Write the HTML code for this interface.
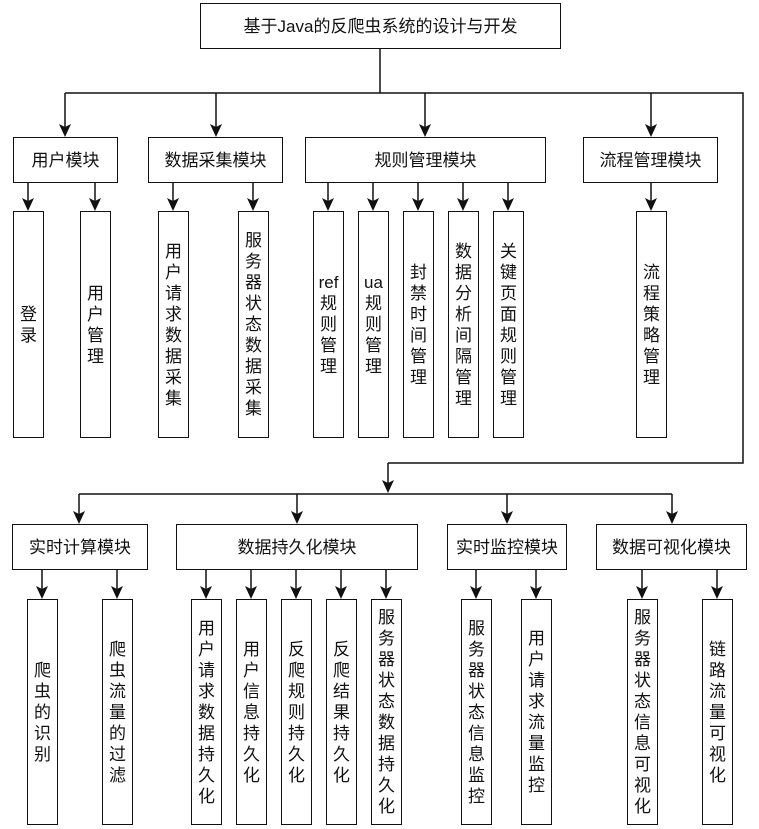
<!DOCTYPE html>
<html><head><meta charset="utf-8"><style>
body{margin:0;background:#fff;width:759px;height:829px;position:relative;overflow:hidden;font-family:"Liberation Sans","Noto Sans CJK SC",sans-serif;}
.b{position:absolute;box-sizing:border-box;border:1.5px solid #111;background:#fff;display:flex;align-items:center;justify-content:center;text-align:center;font-size:17px;color:#111;line-height:21px;}
svg{position:absolute;left:0;top:0;}
</style></head><body>
<svg width="759" height="829" viewBox="0 0 759 829">
<g stroke="#111" stroke-width="1.5" fill="none">
<path d="M380,48 V93 M65,93 H743 V463 H388 M79,494 H672"/>
</g>
<g stroke="#111" stroke-width="1.5">
<line x1="65" y1="93" x2="65" y2="128"/><line x1="216" y1="93" x2="216" y2="128"/><line x1="425" y1="93" x2="425" y2="128"/><line x1="651" y1="93" x2="651" y2="128"/>
<line x1="388" y1="463" x2="388" y2="484"/>
<line x1="79" y1="494" x2="79" y2="515"/><line x1="297" y1="494" x2="297" y2="515"/><line x1="507" y1="494" x2="507" y2="515"/><line x1="672" y1="494" x2="672" y2="515"/>
<line x1="28" y1="182" x2="28" y2="202"/><line x1="95" y1="182" x2="95" y2="202"/><line x1="173" y1="182" x2="173" y2="202"/><line x1="253" y1="182" x2="253" y2="202"/>
<line x1="328" y1="182" x2="328" y2="202"/><line x1="373" y1="182" x2="373" y2="202"/><line x1="418" y1="182" x2="418" y2="202"/><line x1="463" y1="182" x2="463" y2="202"/><line x1="508" y1="182" x2="508" y2="202"/><line x1="651" y1="182" x2="651" y2="202"/>
<line x1="42" y1="569" x2="42" y2="590"/><line x1="117" y1="569" x2="117" y2="590"/>
<line x1="206" y1="569" x2="206" y2="590"/><line x1="251" y1="569" x2="251" y2="590"/><line x1="296" y1="569" x2="296" y2="590"/><line x1="341" y1="569" x2="341" y2="590"/><line x1="386" y1="569" x2="386" y2="590"/>
<line x1="476" y1="569" x2="476" y2="590"/><line x1="536" y1="569" x2="536" y2="590"/><line x1="642" y1="569" x2="642" y2="590"/><line x1="717" y1="569" x2="717" y2="590"/>
</g>
<g fill="#111">
<path d="M59,124 L65,127 L71,124 L65,137 Z"/><path d="M210,124 L216,127 L222,124 L216,137 Z"/><path d="M419,124 L425,127 L431,124 L425,137 Z"/><path d="M645,124 L651,127 L657,124 L651,137 Z"/>
<path d="M382,480 L388,483 L394,480 L388,493 Z"/>
<path d="M73,511 L79,514 L85,511 L79,524 Z"/><path d="M291,511 L297,514 L303,511 L297,524 Z"/><path d="M501,511 L507,514 L513,511 L507,524 Z"/><path d="M666,511 L672,514 L678,511 L672,524 Z"/>
<path d="M22,198 L28,201 L34,198 L28,211 Z"/><path d="M89,198 L95,201 L101,198 L95,211 Z"/><path d="M167,198 L173,201 L179,198 L173,211 Z"/><path d="M247,198 L253,201 L259,198 L253,211 Z"/>
<path d="M322,198 L328,201 L334,198 L328,211 Z"/><path d="M367,198 L373,201 L379,198 L373,211 Z"/><path d="M412,198 L418,201 L424,198 L418,211 Z"/><path d="M457,198 L463,201 L469,198 L463,211 Z"/><path d="M502,198 L508,201 L514,198 L508,211 Z"/><path d="M645,198 L651,201 L657,198 L651,211 Z"/>
<path d="M36,586 L42,589 L48,586 L42,599 Z"/><path d="M111,586 L117,589 L123,586 L117,599 Z"/>
<path d="M200,586 L206,589 L212,586 L206,599 Z"/><path d="M245,586 L251,589 L257,586 L251,599 Z"/><path d="M290,586 L296,589 L302,586 L296,599 Z"/><path d="M335,586 L341,589 L347,586 L341,599 Z"/><path d="M380,586 L386,589 L392,586 L386,599 Z"/>
<path d="M470,586 L476,589 L482,586 L476,599 Z"/><path d="M530,586 L536,589 L542,586 L536,599 Z"/><path d="M636,586 L642,589 L648,586 L642,599 Z"/><path d="M711,586 L717,589 L723,586 L717,599 Z"/>
</g>
</svg>

<div class="b" style="left:200px;top:3px;width:361px;height:46px;">基于Java的反爬虫系统的设计与开发</div>

<div class="b" style="left:13px;top:137px;width:105px;height:46px;">用户模块</div>
<div class="b" style="left:148px;top:137px;width:135px;height:46px;">数据采集模块</div>
<div class="b" style="left:305px;top:137px;width:241px;height:46px;">规则管理模块</div>
<div class="b" style="left:583px;top:137px;width:135px;height:46px;">流程管理模块</div>

<div class="b" style="left:13px;top:211px;width:31px;height:227px;">登<br>录</div>
<div class="b" style="left:80px;top:211px;width:31px;height:227px;">用<br>户<br>管<br>理</div>
<div class="b" style="left:158px;top:211px;width:31px;height:227px;">用<br>户<br>请<br>求<br>数<br>据<br>采<br>集</div>
<div class="b" style="left:238px;top:211px;width:31px;height:227px;">服<br>务<br>器<br>状<br>态<br>数<br>据<br>采<br>集</div>
<div class="b" style="left:313px;top:211px;width:31px;height:227px;">ref<br>规<br>则<br>管<br>理</div>
<div class="b" style="left:358px;top:211px;width:31px;height:227px;">ua<br>规<br>则<br>管<br>理</div>
<div class="b" style="left:403px;top:211px;width:31px;height:227px;">封<br>禁<br>时<br>间<br>管<br>理</div>
<div class="b" style="left:448px;top:211px;width:31px;height:227px;">数<br>据<br>分<br>析<br>间<br>隔<br>管<br>理</div>
<div class="b" style="left:493px;top:211px;width:31px;height:227px;">关<br>键<br>页<br>面<br>规<br>则<br>管<br>理</div>
<div class="b" style="left:636px;top:211px;width:31px;height:227px;">流<br>程<br>策<br>略<br>管<br>理</div>

<div class="b" style="left:12px;top:524px;width:136px;height:46px;">实时计算模块</div>
<div class="b" style="left:176px;top:524px;width:242px;height:46px;">数据持久化模块</div>
<div class="b" style="left:447px;top:524px;width:120px;height:46px;">实时监控模块</div>
<div class="b" style="left:596px;top:524px;width:151px;height:46px;">数据可视化模块</div>

<div class="b" style="left:27px;top:599px;width:31px;height:226px;">爬<br>虫<br>的<br>识<br>别</div>
<div class="b" style="left:102px;top:599px;width:31px;height:226px;">爬<br>虫<br>流<br>量<br>的<br>过<br>滤</div>
<div class="b" style="left:191px;top:599px;width:31px;height:226px;">用<br>户<br>请<br>求<br>数<br>据<br>持<br>久<br>化</div>
<div class="b" style="left:236px;top:599px;width:31px;height:226px;">用<br>户<br>信<br>息<br>持<br>久<br>化</div>
<div class="b" style="left:281px;top:599px;width:31px;height:226px;">反<br>爬<br>规<br>则<br>持<br>久<br>化</div>
<div class="b" style="left:326px;top:599px;width:31px;height:226px;">反<br>爬<br>结<br>果<br>持<br>久<br>化</div>
<div class="b" style="left:371px;top:599px;width:31px;height:226px;">服<br>务<br>器<br>状<br>态<br>数<br>据<br>持<br>久<br>化</div>
<div class="b" style="left:461px;top:599px;width:31px;height:226px;">服<br>务<br>器<br>状<br>态<br>信<br>息<br>监<br>控</div>
<div class="b" style="left:521px;top:599px;width:31px;height:226px;">用<br>户<br>请<br>求<br>流<br>量<br>监<br>控</div>
<div class="b" style="left:627px;top:599px;width:31px;height:226px;">服<br>务<br>器<br>状<br>态<br>信<br>息<br>可<br>视<br>化</div>
<div class="b" style="left:702px;top:599px;width:31px;height:226px;">链<br>路<br>流<br>量<br>可<br>视<br>化</div>
</body></html>
